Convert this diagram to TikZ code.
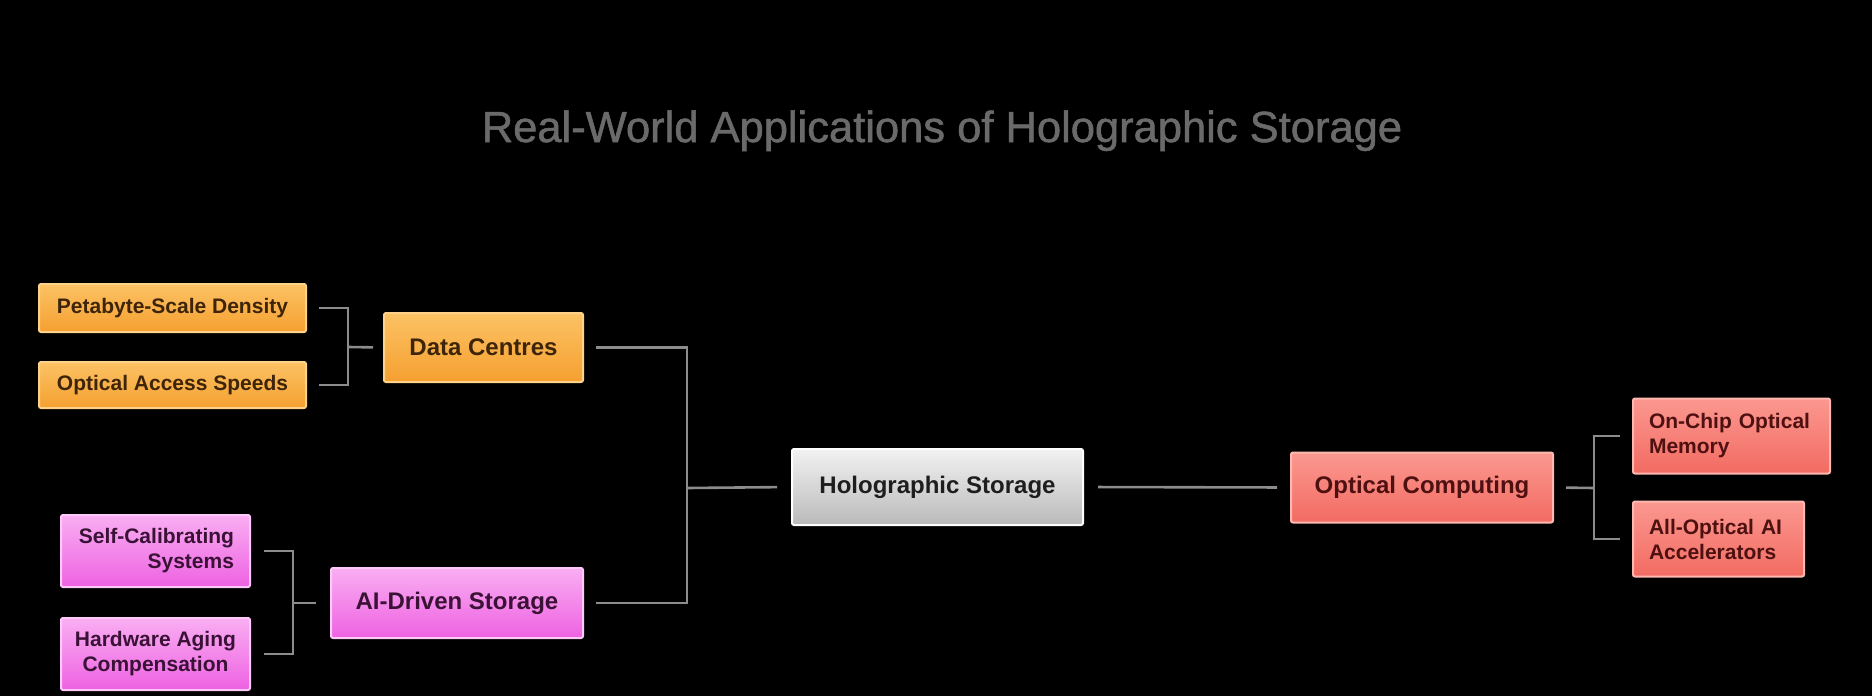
\documentclass[tikz,border=0pt]{standalone}
\usepackage{fontspec}
\setmainfont{Liberation Sans}
\newfontfamily\titlefont[FakeBold=1.2]{Liberation Sans}
\begin{document}
\begin{tikzpicture}[x=1pt,y=-1pt,
  conn/.style={draw=linegray,line width=2.6pt},
  box/.style={rectangle,rounded corners=2pt,line width=2pt,font=\bfseries\fontsize{21}{25}\selectfont,inner sep=0pt,align=center},
  mainbox/.style={box,font=\bfseries\fontsize{24}{28}\selectfont},
  orangebox/.style={top color=orangetop,bottom color=orangebot,draw=orangeedge,text=orangetext},
  pinkbox/.style={top color=pinktop,bottom color=pinkbot,draw=pinkedge,text=pinktext},
  redbox/.style={top color=redtop,bottom color=redbot,draw=rededge,text=redtext},
  graybox/.style={top color=graytop,bottom color=graybot,draw=grayedge,text=graytext}
]
\definecolor{linegray}{HTML}{8C8C8C}
\definecolor{orangetop}{HTML}{FCC264}
\definecolor{orangebot}{HTML}{F5A030}
\definecolor{orangeedge}{HTML}{FFD28A}
\definecolor{orangetext}{HTML}{3E2408}
\definecolor{pinktop}{HTML}{F9AEF2}
\definecolor{pinkbot}{HTML}{EE62E2}
\definecolor{pinkedge}{HTML}{FFC8FA}
\definecolor{pinktext}{HTML}{3A1236}
\definecolor{redtop}{HTML}{FB9890}
\definecolor{redbot}{HTML}{F26B62}
\definecolor{rededge}{HTML}{FFB8B0}
\definecolor{redtext}{HTML}{4E1010}
\definecolor{graytop}{HTML}{F2F2F2}
\definecolor{graybot}{HTML}{BABABA}
\definecolor{grayedge}{HTML}{FFFFFF}
\definecolor{graytext}{HTML}{1E1E1E}
\definecolor{titlegray}{HTML}{6A6A6A}

\fill[black] (0,0) rectangle (1872,696);
\useasboundingbox (0,0) rectangle (1872,696);

\node[anchor=base,text=titlegray,font=\titlefont\fontsize{43.5}{48}\selectfont] (title) at (942,142) {Real-World Applications of Holographic Storage};

% left orange group
\node[box,orangebox,minimum width=267pt,minimum height=48pt] (pet) at (172.5,308) {Petabyte-Scale Density};
\node[box,orangebox,minimum width=267pt,minimum height=46pt] (oas) at (172.5,385) {Optical Access Speeds};
\node[mainbox,orangebox,minimum width=199pt,minimum height=69pt] (dc) at (483.5,347.5) {Data Centres};

% left pink group
\node[box,pinkbox,minimum width=189pt,minimum height=72pt,text width=157pt,align=right] (scs) at (155.5,551) {Self-Calibrating\\Systems};
\node[box,pinkbox,minimum width=189pt,minimum height=72pt] (hac) at (155.5,654) {Hardware Aging\\Compensation};
\node[mainbox,pinkbox,minimum width=252pt,minimum height=70pt] (ai) at (457,603) {AI-Driven Storage};

% centre
\node[mainbox,graybox,minimum width=291pt,minimum height=76pt] (holo) at (937.5,487) {Holographic Storage};

% right red group
\node[mainbox,redbox,minimum width=262pt,minimum height=70pt] (oc) at (1422,487.5) {Optical Computing};
\node[box,redbox,minimum width=197pt,minimum height=75pt,text width=165pt,align=left] (ocm) at (1731.5,436) {On-Chip Optical\\Memory};
\node[box,redbox,minimum width=171pt,minimum height=75pt,text width=139pt,align=left] (aoa) at (1718.5,539) {All-Optical AI\\Accelerators};

% junction coordinates
\coordinate (jdc) at (348,347);
\coordinate (jai) at (293,603);
\coordinate (jmain) at (687,488);
\coordinate (joc) at (1594,488);

% connectors
\draw[conn,shorten <=12pt,shorten >=12pt] (pet.east) -| (jdc) |- (oas.east);
\draw[conn,shorten >=10pt] (jdc) -- (dc.west);
\draw[conn,shorten <=13pt,shorten >=13pt] (scs.east) -| (jai) |- (hac.east);
\draw[conn,shorten >=14pt] (jai) -- (ai.west);
\draw[conn,shorten <=12pt,shorten >=12pt] (dc.east) -| (jmain) |- (ai.east);
\draw[conn,shorten >=14pt] (jmain) -- (holo.west);
\draw[conn,shorten <=14pt,shorten >=13pt] (holo.east) -- (oc.west);
\draw[conn,shorten <=12pt] (oc.east) -- (joc);
\draw[conn,shorten <=12pt,shorten >=12pt] (ocm.west) -| (joc) |- (aoa.west);
\end{tikzpicture}
\end{document}
